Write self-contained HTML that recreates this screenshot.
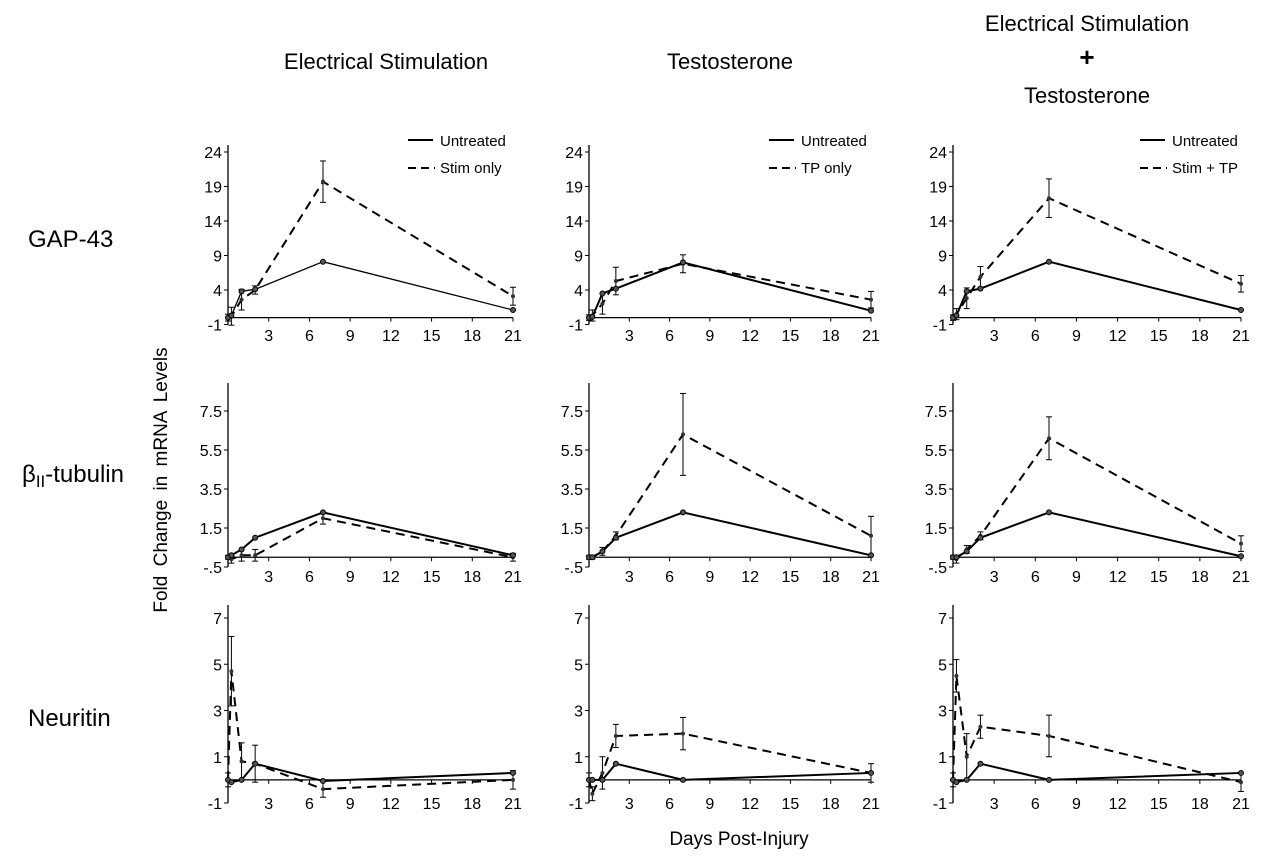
<!DOCTYPE html>
<html><head><meta charset="utf-8"><style>
body{margin:0;background:#fff;}
svg{font-family:"Liberation Sans",Arial,sans-serif;}
</style></head><body>
<svg id="fig" width="1276" height="863" xmlns="http://www.w3.org/2000/svg">
<text x="386" y="69" font-size="22" text-anchor="middle">Electrical Stimulation</text>
<text x="730" y="69" font-size="22" text-anchor="middle">Testosterone</text>
<text x="1087" y="31" font-size="22" text-anchor="middle">Electrical Stimulation</text>
<text x="1087" y="66" font-size="26" font-weight="bold" text-anchor="middle">+</text>
<text x="1087" y="103" font-size="22" text-anchor="middle">Testosterone</text>
<text x="28" y="247" font-size="24">GAP-43</text>
<text x="22" y="482" font-size="24">β<tspan font-size="17" dy="5">II</tspan><tspan dy="-5">-tubulin</tspan></text>
<text x="28" y="726" font-size="24">Neuritin</text>
<text transform="translate(167,480) rotate(-90)" font-size="19" text-anchor="middle" word-spacing="4">Fold Change in mRNA Levels</text>
<text x="739" y="845" font-size="19" text-anchor="middle">Days Post-Injury</text>
<g id="plots"></g>
</svg>
<script>
const days = [0, 0.25, 1, 2, 7, 21];
const xTicks = [3, 6, 9, 12, 15, 18, 21];
const yTicksGap = [-1, 4, 9, 14, 19, 24];
const yTicksTub = [-0.5, 1.5, 3.5, 5.5, 7.5];
const yTickLabelsTub = ["-.5", "1.5", "3.5", "5.5", "7.5"];
const yTicksNeu = [-1, 1, 3, 5, 7];
// GAP-43
const gapStimUntreated = [0, 0.3, 3.8, 4.1, 8.1, 1.1];
const gapStimTreated = [0, 0.2, 2.6, 4.0, 19.7, 3.1];
const gapStimErr = [0.5, 1.3, 1.5, 0.6, 3.0, 1.3];
const gapTpUntreated = [0, 0.1, 3.5, 4.2, 8.0, 1.0];
const gapTpTreated = [0, 0.3, 2.0, 5.3, 7.8, 2.6];
const gapTpErr = [0.4, 0.8, 1.5, 2.0, 1.3, 1.2];
const gapBothUntreated = [0, 0.3, 3.8, 4.2, 8.1, 1.1];
const gapBothTreated = [0, 0.5, 2.8, 5.9, 17.3, 4.9];
const gapBothErr = [0.4, 0.8, 1.5, 1.5, 2.8, 1.2];
// beta-II tubulin
const tubStimUntreated = [0, 0.1, 0.4, 1.0, 2.3, 0.1];
const tubStimTreated = [0, -0.1, 0.1, 0.1, 2.0, 0.0];
const tubStimErr = [0.1, 0.2, 0.3, 0.3, 0.3, 0.2];
const tubTpUntreated = [0, 0, 0.3, 1.0, 2.3, 0.1];
const tubTpTreated = [0, 0, 0.3, 1.1, 6.3, 1.1];
const tubTpErr = [0.1, 0.1, 0.2, 0.2, 2.1, 1.0];
const tubBothUntreated = [0, 0, 0.3, 1.0, 2.3, 0.05];
const tubBothTreated = [0, -0.1, 0.4, 1.1, 6.1, 0.7];
const tubBothErr = [0.1, 0.2, 0.2, 0.2, 1.1, 0.4];
// Neuritin
const neuStimUntreated = [0, -0.1, 0, 0.7, -0.05, 0.3];
const neuStimTreated = [0, 4.7, 0.8, 0.7, -0.4, 0];
const neuStimErr = [0.3, 1.5, 0.8, 0.8, 0.35, 0.4];
const neuTpUntreated = [0, 0, 0, 0.7, 0, 0.3];
const neuTpTreated = [0, -0.6, 0.3, 1.9, 2.0, 0.3];
const neuTpErr = [0.3, 0.3, 0.7, 0.5, 0.7, 0.4];
const neuBothUntreated = [0, -0.1, 0, 0.7, 0, 0.3];
const neuBothTreated = [0, 4.5, 1.0, 2.3, 1.9, -0.1];
const neuBothErr = [0.3, 0.7, 1.0, 0.5, 0.9, 0.4];

const NS = "http://www.w3.org/2000/svg";
const root = document.getElementById('plots');
function mk(tag, attrs, parent){const e=document.createElementNS(NS,tag);for(const k in attrs)e.setAttribute(k,attrs[k]);(parent||root).appendChild(e);return e;}

const cols = [{x0:228,x21:513,name:'stim',leg:'Stim only',lx:408},{x0:589,x21:871,name:'tp',leg:'TP only',lx:769},{x0:953,x21:1241,name:'both',leg:'Stim + TP',lx:1140}];
const rows = [
 {name:'gap43',top:145,v1:24,p1:152,v2:4,p2:290,ticks:yTicksGap,labels:yTicksGap.map(String),xlab:341,
  data:[[gapStimUntreated,gapStimTreated,gapStimErr],[gapTpUntreated,gapTpTreated,gapTpErr],[gapBothUntreated,gapBothTreated,gapBothErr]]},
 {name:'tubulin',top:383,v1:7.5,p1:411,v2:-0.5,p2:567,ticks:yTicksTub,labels:yTickLabelsTub,xlab:582,
  data:[[tubStimUntreated,tubStimTreated,tubStimErr],[tubTpUntreated,tubTpTreated,tubTpErr],[tubBothUntreated,tubBothTreated,tubBothErr]]},
 {name:'neuritin',top:605,v1:7,p1:618,v2:-1,p2:803,ticks:yTicksNeu,labels:yTicksNeu.map(String),xlab:809,
  data:[[neuStimUntreated,neuStimTreated,neuStimErr],[neuTpUntreated,neuTpTreated,neuTpErr],[neuBothUntreated,neuBothTreated,neuBothErr]]}
];

rows.forEach((r,ri)=>{
 const ys = v => r.p1 + (v - r.v1)*(r.p2 - r.p1)/(r.v2 - r.v1);
 cols.forEach((c,ci)=>{
  const xs = d => c.x0 + d*(c.x21 - c.x0)/21;
  const g = mk('g',{});
  
  
  const zeroY = ys(0);
  const bottom = ys(r.ticks[0]);
  const ya = mk('line',{x1:c.x0,y1:r.top,x2:c.x0,y2:bottom,stroke:'#000','stroke-width':1.3},g);
  
  
  r.ticks.forEach((t,i)=>{
   mk('line',{x1:c.x0-4,y1:ys(t),x2:c.x0,y2:ys(t),stroke:'#000'},g);
   const tl = mk('text',{x:c.x0-6,y:ys(t)+6,'font-size':16,'text-anchor':'end'},g);
   tl.textContent = r.labels[i];
   
   
  });
  const xa = mk('line',{x1:c.x0,y1:zeroY,x2:c.x21,y2:zeroY,stroke:'#000','stroke-width':1.3},g);
  
  
  xTicks.forEach(t=>{
   mk('line',{x1:xs(t),y1:zeroY,x2:xs(t),y2:zeroY+4,stroke:'#000'},g);
   const tl = mk('text',{x:xs(t),y:r.xlab,'font-size':16,'text-anchor':'middle'},g);
   tl.textContent = String(t);
   
   
  });
  const [un,tr,er] = r.data[ci];
  const pts2 = days.map((d,i)=>xs(d)+','+ys(tr[i])).join(' ');
  const l2 = mk('polyline',{points:pts2,fill:'none',stroke:'#000','stroke-width':2,'stroke-dasharray':'9,6'},g);
  
  
  days.forEach((d,i)=>{
   mk('line',{x1:xs(d),y1:ys(tr[i]-er[i]),x2:xs(d),y2:ys(tr[i]+er[i]),stroke:'#000','stroke-width':1},g);
   mk('line',{x1:xs(d)-3,y1:ys(tr[i]+er[i]),x2:xs(d)+3,y2:ys(tr[i]+er[i]),stroke:'#000'},g);
   mk('line',{x1:xs(d)-3,y1:ys(tr[i]-er[i]),x2:xs(d)+3,y2:ys(tr[i]-er[i]),stroke:'#000'},g);
   const m = mk('circle',{cx:xs(d),cy:ys(tr[i]),r:2,fill:'#333'},g);
   
   
  });
  const pts1 = days.map((d,i)=>xs(d)+','+ys(un[i])).join(' ');
  const l1 = mk('polyline',{points:pts1,fill:'none',stroke:'#000','stroke-width':ri==0&&ci==0?1.3:2},g);
  
  
  days.forEach((d,i)=>{
   const m = mk('circle',{cx:xs(d),cy:ys(un[i]),r:2.5,fill:'#555',stroke:'#000'},g);
   
   
  });
  if(ri==0){
   const lg = mk('g',{},g);
   
   
   mk('line',{x1:c.lx,y1:140,x2:c.lx+25,y2:140,stroke:'#000','stroke-width':2},lg);
   const t1 = mk('text',{x:c.lx+32,y:146,'font-size':15},lg); t1.textContent='Untreated';
   mk('line',{x1:c.lx,y1:168,x2:c.lx+27,y2:168,stroke:'#000','stroke-width':2,'stroke-dasharray':'8,5'},lg);
   const t2 = mk('text',{x:c.lx+32,y:173,'font-size':15},lg); t2.textContent=c.leg;
  }
 });
});
</script>
</body></html>
